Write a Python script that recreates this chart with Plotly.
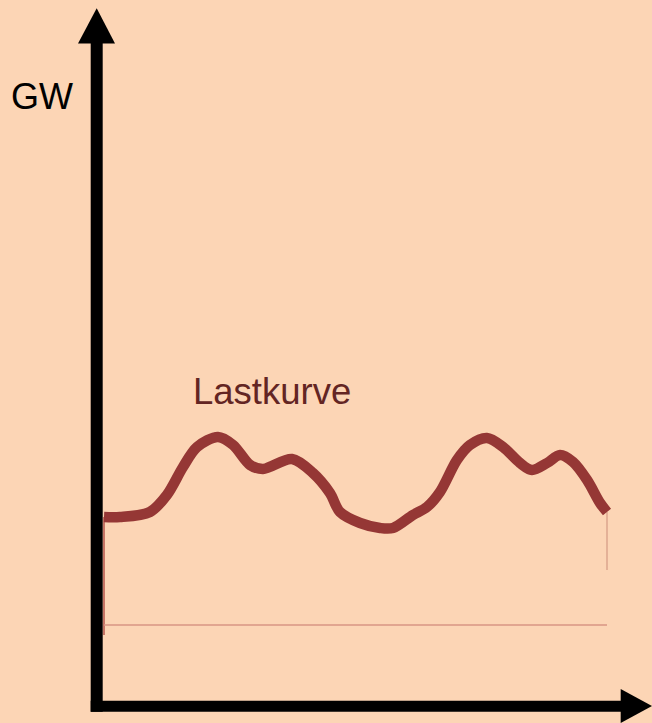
import plotly.graph_objects as go

# ---- data (hours of day, load in GW) ----
hours = [0.0, 0.76, 2.19, 3.0, 3.77, 4.44, 5.44, 6.16, 6.97, 7.59, 8.97, 9.97,
         10.78, 11.26, 12.22, 13.17, 13.79, 14.74, 15.41, 16.03, 16.84, 17.46,
         18.27, 19.04, 19.85, 20.42, 21.14, 21.76, 22.38, 23.05, 23.67, 24.0]
load_gw = [10.8, 10.8, 11.3, 13.0, 15.8, 17.8, 18.8, 18.0, 16.0, 15.6, 16.6, 15.2,
           13.2, 11.3, 10.2, 9.7, 9.7, 11.0, 11.8, 13.3, 16.5, 18.0,
           18.7, 17.8, 16.2, 15.5, 16.2, 17.0, 16.3, 14.5, 12.2, 11.3]
curve_label = "Lastkurve"
y_unit = "GW"

W, H = 652, 723
BG = "#FCD5B5"
CURVE = "#953735"
TEXT_RED = "#632523"

# pixel scale of the plotting frame
x0_px, x24_px = 104, 607
kx = (x24_px - x0_px) / 24.0
y0_px, ky = 625, 10.0

def px(x):
    return x / W

def py(y):
    return 1 - y / H

fig = go.Figure()

# thin outline lines (base of area under load curve)
fig.add_trace(go.Scatter(x=[hours[0], hours[0]], y=[load_gw[0], -1.0], mode="lines",
                         line=dict(color="#B5554C", width=1.5), hoverinfo="skip"))
fig.add_trace(go.Scatter(x=[hours[0], hours[-1]], y=[0.0, 0.0], mode="lines",
                         line=dict(color="#D99584", width=1.5), hoverinfo="skip"))
fig.add_trace(go.Scatter(x=[hours[-1], hours[-1]], y=[load_gw[-1], 5.5], mode="lines",
                         line=dict(color="#DCA48E", width=1.5), hoverinfo="skip"))

# load curve
fig.add_trace(go.Scatter(x=hours, y=load_gw, mode="lines",
                         line=dict(color=CURVE, width=10.5, shape="spline", smoothing=0.9),
                         hoverinfo="skip"))

shapes = [
    # vertical axis shaft
    dict(type="rect", xref="paper", yref="paper", x0=px(90.7), x1=px(102.7),
         y0=py(711.7), y1=py(42), fillcolor="black", line=dict(width=0), layer="above"),
    # horizontal axis shaft
    dict(type="rect", xref="paper", yref="paper", x0=px(90.7), x1=px(622),
         y0=py(711.7), y1=py(700.7), fillcolor="black", line=dict(width=0), layer="above"),
    # up arrow head
    dict(type="path", xref="paper", yref="paper",
         path=f"M {px(78)} {py(43.5)} L {px(115)} {py(43.5)} L {px(96.7)} {py(8.3)} Z",
         fillcolor="black", line=dict(width=0), layer="above"),
    # right arrow head
    dict(type="path", xref="paper", yref="paper",
         path=f"M {px(620.7)} {py(689)} L {px(620.7)} {py(723)} L {px(652)} {py(706)} Z",
         fillcolor="black", line=dict(width=0), layer="above"),
]

annotations = [
    dict(text=y_unit, xref="paper", yref="paper", x=px(42), y=py(96.5),
         xanchor="center", yanchor="middle", showarrow=False,
         font=dict(family="Liberation Sans, Arial, sans-serif", size=36, color="black")),
    dict(text=curve_label, xref="paper", yref="paper", x=px(272), y=py(391.5),
         xanchor="center", yanchor="middle", showarrow=False,
         font=dict(family="Liberation Sans, Arial, sans-serif", size=36.5, color=TEXT_RED)),
]

fig.update_layout(
    width=W, height=H,
    margin=dict(l=0, r=0, t=0, b=0),
    paper_bgcolor=BG, plot_bgcolor=BG,
    showlegend=False,
    xaxis=dict(range=[-x0_px / kx, (W - x0_px) / kx], visible=False, fixedrange=True),
    yaxis=dict(range=[(y0_px - H) / ky, y0_px / ky], visible=False, fixedrange=True),
    shapes=shapes,
    annotations=annotations,
)

fig.write_html("out.html", config={"displayModeBar": False},
               post_script="document.body.style.margin='0';document.body.style.overflow='hidden';")
